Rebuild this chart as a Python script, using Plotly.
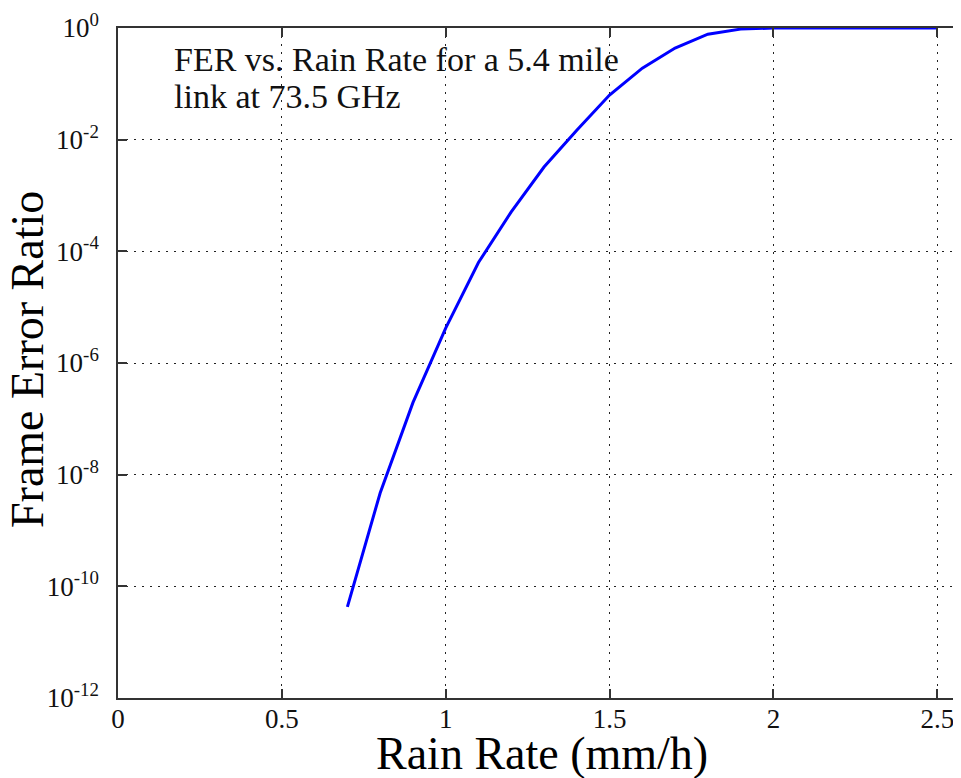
import plotly.graph_objects as go

# Data
rain_rate = [0.7, 0.8, 0.9, 1.0, 1.1, 1.2, 1.3, 1.4, 1.5, 1.6, 1.7, 1.8, 1.9, 2.0, 2.1, 2.2, 2.3, 2.4, 2.5]
fer = [4.3e-11, 4.7e-9, 1.95e-7, 4.2e-6, 6.3e-5, 5.1e-4, 3.24e-3, 1.48e-2, 6.3e-2,
       0.191, 0.437, 0.776, 0.955, 1.0, 1.0, 1.0, 1.0, 1.0, 1.0]

x_ticks = [0, 0.5, 1, 1.5, 2, 2.5]
x_ticktext = ["0", "0.5", "1", "1.5", "2", "2.5"]
y_ticks = [1e0, 1e-2, 1e-4, 1e-6, 1e-8, 1e-10, 1e-12]
y_ticktext = ["10<sup>0</sup>", "10<sup>-2</sup>", "10<sup>-4</sup>", "10<sup>-6</sup>",
              "10<sup>-8</sup>", "10<sup>-10</sup>", "10<sup>-12</sup>"]

x_title = "Rain Rate (mm/h)"
y_title = "Frame Error Ratio"
annotation_lines = ["FER vs. Rain Rate for a 5.4 mile", "link at 73.5 GHz"]

# The page body adds an 8px offset; design in figure pixels = screen - 8
W, H = 961, 778
L, T, B, R = 110, 20, 88, 0
pw, ph = W - L - R, H - T - B

FONT = "Liberation Serif, Times New Roman, serif"

fig = go.Figure()
fig.add_trace(go.Scatter(x=rain_rate, y=fer, mode="lines",
                         line=dict(color="#0000ff", width=3), showlegend=False))

axis_common = dict(
    showline=True, linecolor="#333333", linewidth=1.5, mirror="ticks",
    ticks="inside", ticklen=9, tickcolor="#333333", tickwidth=1.5,
    showgrid=True, gridcolor="#222222", gridwidth=1, griddash="2px,6px",
    zeroline=False, automargin=False,
    tickfont=dict(family=FONT, size=27, color="#111111"),
)

fig.update_xaxes(range=[0, pw / 327.7], tickvals=x_ticks, ticktext=x_ticktext,
                 ticklabelstandoff=-4, **axis_common)
fig.update_yaxes(type="log", range=[-12, 0], tickvals=y_ticks, ticktext=y_ticktext,
                 ticklabelstandoff=12, **axis_common)

def px_to_paper(px, py):
    return (px - L) / pw, (H - B - py) / ph

ann = []
for line, cy in zip(annotation_lines, [51.5, 88.5]):
    xp, yp = px_to_paper(164, cy)
    ann.append(dict(text=line, xref="paper", yref="paper", x=xp, y=yp,
                    xanchor="left", yanchor="middle", showarrow=False,
                    font=dict(family=FONT, size=34, color="#111")))

xp, yp = px_to_paper(534, 745.5)
ann.append(dict(text=x_title, xref="paper", yref="paper", x=xp, y=yp,
                xanchor="center", yanchor="middle", showarrow=False,
                font=dict(family=FONT, size=46, color="#000")))
xp, yp = px_to_paper(19, 352)
ann.append(dict(text=y_title, xref="paper", yref="paper", x=xp, y=yp, textangle=-90,
                xanchor="center", yanchor="middle", showarrow=False,
                font=dict(family=FONT, size=46, color="#000")))

fig.update_layout(width=W, height=H, margin=dict(l=L, r=R, t=T, b=B),
                  plot_bgcolor="white", paper_bgcolor="white", annotations=ann)

fig.write_html("out.html")
